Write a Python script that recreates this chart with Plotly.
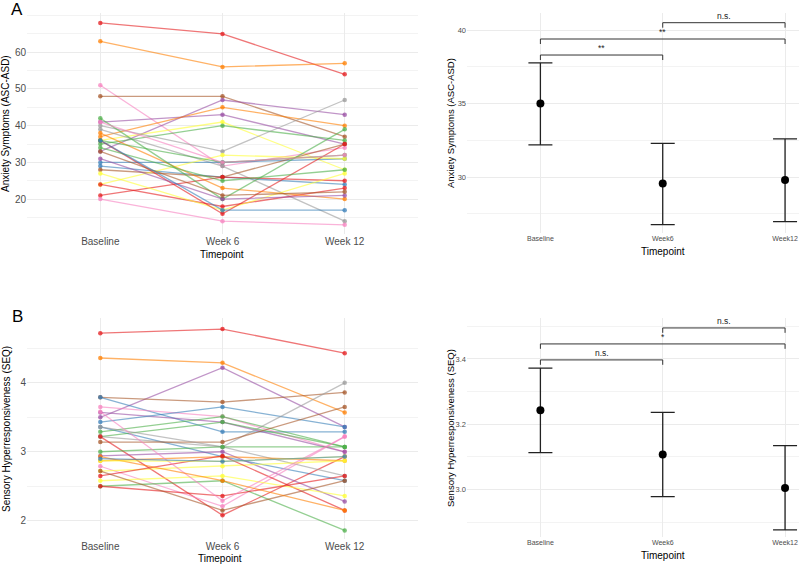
import plotly.graph_objects as go

# ---------------- data ----------------
timepoints_left = ["Baseline", "Week 6", "Week 12"]
timepoints_right = ["Baseline", "Week6", "Week12"]

# Panel A (individual ASC-ASD trajectories)
A_baseline = [68, 63, 51, 48, 41, 33, 37, 36, 35, 40, 39, 30, 29, 28, 21, 20, 24, 24, 27, 36, 38, 42, 34, 36, 31, 33, 36, 41]
A_week6    = [65, 56, 29, 48, 43, 47, 45, 41, 40, 33, 29, 30, 26, 26, 26, 14, 32, 18, 17, 16, 23, 20, 25, 30, 20, 21, 17, 30]
A_week12   = [54, 57, 34, 37, 35, 43, 40, 28, 36, 47, 14, 31, 24, 35, 25, 13, 31, 23, 27, 35, 20, 39, 28, 32, 21, 22, 17, 32]
A_colors   = ["red", "orange", "pink", "brown", "purple", "purple", "orange", "yellow", "green", "gray",
              "gray", "blue", "blue", "brown", "red", "pink", "yellow", "red", "yellow", "red",
              "orange", "green", "green", "green", "purple", "brown", "blue", "pink"]

# Panel B (individual SEQ trajectories)
B_baseline = [4.72, 4.36, 3.50, 3.79, 3.79, 3.65, 3.57, 3.43, 3.36, 3.29, 3.22, 3.22, 3.14, 3.22, 3.36,
              3.00, 2.94, 2.87, 2.79, 2.72, 2.65, 2.58, 2.50, 2.50, 2.72, 3.58, 2.93, 2.87, 2.90]
B_week6    = [4.78, 4.29, 4.22, 3.72, 3.29, 3.51, 3.43, 3.65, 2.93, 3.51, 3.43, 3.07, 3.14, 2.08, 3.07,
              3.07, 3.00, 2.93, 2.21, 2.79, 2.94, 2.65, 2.58, 2.36, 2.15, 2.29, 2.58, 2.86, 2.86]
B_week12   = [4.43, 3.57, 3.36, 3.86, 3.29, 3.00, 3.00, 3.36, 2.58, 3.07, 3.07, 4.00, 3.65, 2.93, 2.65,
              3.07, 2.28, 2.87, 3.22, 2.87, 2.15, 2.36, 1.86, 2.65, 2.58, 3.22, 2.15, 2.93, 2.93]
B_colors   = ["red", "orange", "purple", "brown", "blue", "pink", "purple", "blue", "blue", "green",
              "green", "gray", "brown", "red", "gray", "green", "purple", "orange", "pink", "yellow",
              "red", "yellow", "green", "red", "brown", "pink", "orange", "yellow", "blue"]

# Panel A right: estimated means with 95% CI
A_mean  = [35.0, 29.55, 29.8]
A_lower = [32.19, 26.76, 26.96]
A_upper = [37.76, 32.29, 32.59]
# Panel B right
B_mean  = [3.243, 3.107, 3.004]
B_lower = [3.113, 2.978, 2.876]
B_upper = [3.372, 3.236, 3.134]

# significance brackets: (from index, to index, height, label)
A_brackets = [(0, 1, 38.30, "**"), (0, 2, 39.39, "**"), (1, 2, 40.50, "n.s.")]
B_brackets = [(0, 1, 3.397, "n.s."), (0, 2, 3.446, "*"), (1, 2, 3.495, "n.s.")]

# ---------------- styles ----------------
set1 = {"red": (228, 26, 28), "blue": (55, 126, 184), "green": (77, 175, 74),
        "purple": (152, 78, 163), "orange": (255, 127, 0), "yellow": (255, 255, 51),
        "brown": (166, 86, 40), "pink": (247, 129, 191), "gray": (153, 153, 153)}

def rgba(name, a):
    r, g, b = set1[name]
    return f"rgba({r},{g},{b},{a})"

W, H = 799, 564
FONT = "Liberation Sans, Arial, sans-serif"
GRID = "#EBEBEB"
MINOR = "#F3F3F3"
TICKC = "#4D4D4D"

def px_x(p):
    return p / W

def px_y(p):
    return 1 - p / H

fig = go.Figure()

def add_spaghetti(xa, ya, base, w6, w12, colors):
    for b, m, e, c in zip(base, w6, w12, colors):
        fig.add_trace(go.Scatter(
            x=timepoints_left, y=[b, m, e], mode="lines+markers",
            line=dict(color=rgba(c, 0.6), width=1.3),
            marker=dict(color=rgba(c, 0.75), size=4.5),
            xaxis=xa, yaxis=ya, showlegend=False, hoverinfo="skip"))

def add_means(xa, ya, mean, lo, hi):
    fig.add_trace(go.Scatter(
        x=timepoints_right, y=mean, mode="markers",
        marker=dict(color="black", size=8),
        error_y=dict(type="data", symmetric=False,
                     array=[h - m for h, m in zip(hi, mean)],
                     arrayminus=[m - l for m, l in zip(mean, lo)],
                     color="#222222", thickness=1.3, width=12),
        xaxis=xa, yaxis=ya, showlegend=False, hoverinfo="skip"))

def add_brackets(xr, yr, brackets, tick):
    for i, j, h, lab in brackets:
        for (x0, y0, x1, y1) in [(i, h, j, h), (i, h - tick, i, h), (j, h - tick, j, h)]:
            fig.add_shape(type="line", xref=xr, yref=yr, x0=x0, y0=y0, x1=x1, y1=y1,
                          line=dict(color="#333333", width=1))
        fig.add_annotation(xref=xr, yref=yr, x=(i + j) / 2, y=h, text=lab, showarrow=False,
                           yanchor="bottom", yshift=0, font=dict(family=FONT, size=8.5, color="#222222"))

add_spaghetti("x", "y", A_baseline, A_week6, A_week12, A_colors)
add_means("x2", "y2", A_mean, A_lower, A_upper)
add_spaghetti("x3", "y3", B_baseline, B_week6, B_week12, B_colors)
add_means("x4", "y4", B_mean, B_lower, B_upper)
add_brackets("x2", "y2", A_brackets, 0.34)
add_brackets("x4", "y4", B_brackets, 0.015)

def xaxis(dom, rng, cats, size, anchor):
    return dict(domain=dom, type="category", categoryorder="array", categoryarray=cats,
                range=rng, showgrid=True, gridcolor=GRID, gridwidth=0.8, zeroline=False,
                showline=False, ticks="", tickfont=dict(family=FONT, size=size, color=TICKC),
                anchor=anchor, fixedrange=True)

def yaxis(dom, rng, tickvals, ticktext, minor_dtick, size, anchor):
    return dict(domain=dom, range=rng, tickmode="array", tickvals=tickvals, ticktext=ticktext,
                showgrid=True, gridcolor=GRID, gridwidth=0.8, zeroline=False, showline=False,
                ticks="", tickfont=dict(family=FONT, size=size, color=TICKC), anchor=anchor,
                minor=dict(dtick=minor_dtick, tick0=0, showgrid=True, gridcolor=MINOR, gridwidth=0.5),
                fixedrange=True)

top_dom = [px_y(234), px_y(13)]
topr_dom = [px_y(233), px_y(13)]
bot_dom = [px_y(539), px_y(318)]
botr_dom = [px_y(537), px_y(318)]
left_dom = [px_x(27), px_x(418)]
right_dom = [px_x(467), 1.0]

fig.update_layout(
    width=W, height=H, margin=dict(l=0, r=0, t=0, b=0),
    paper_bgcolor="white", plot_bgcolor="white", showlegend=False,
    xaxis=xaxis(left_dom, [-0.6, 2.6], timepoints_left, 10, "y"),
    yaxis=yaxis(top_dom, [10.5, 70.7], [20, 30, 40, 50, 60], ["20", "30", "40", "50", "60"], 5, 10, "x"),
    xaxis2=xaxis(right_dom, [-0.6, 2.114], timepoints_right, 7, "y2"),
    yaxis2=yaxis(topr_dom, [26.19, 41.16], [30, 35, 40], ["30", "35", "40"], 2.5, 7.5, "x2"),
    xaxis3=xaxis(left_dom, [-0.6, 2.6], timepoints_left, 10, "y3"),
    yaxis3=yaxis(bot_dom, [1.735, 4.94], [2, 3, 4], ["2", "3", "4"], 0.5, 10, "x3"),
    xaxis4=xaxis(right_dom, [-0.6, 2.114], timepoints_right, 7, "y4"),
    yaxis4=yaxis(botr_dom, [2.854, 3.5255], [3.0, 3.2, 3.4], ["3.0", "3.2", "3.4"], 0.1, 7.5, "x4"),
)

def text_ann(x, y, text, size, angle=0, color="black"):
    fig.add_annotation(xref="paper", yref="paper", x=px_x(x), y=px_y(y), text=text,
                       showarrow=False, textangle=angle, xanchor="center", yanchor="middle",
                       font=dict(family=FONT, size=size, color=color))

# axis titles
text_ann(222, 254, "Timepoint", 10)
text_ann(663, 251, "Timepoint", 10)
text_ann(220, 558.5, "Timepoint", 10)
text_ann(663, 555, "Timepoint", 10)
text_ann(6, 124, "Anxiety Symptoms (ASC-ASD)", 10, -90)
text_ann(450, 123, "Anxiety Symptoms (ASC-ASD)", 9.5, -90)
text_ann(6, 429, "Sensory Hyperresponsiveness (SEQ)", 10, -90)
text_ann(450, 428, "Sensory Hyperresponsiveness (SEQ)", 9.5, -90)
# panel letters
text_ann(17, 10, "A", 17)
text_ann(17, 316, "B", 17)

fig.write_html("out.html")
